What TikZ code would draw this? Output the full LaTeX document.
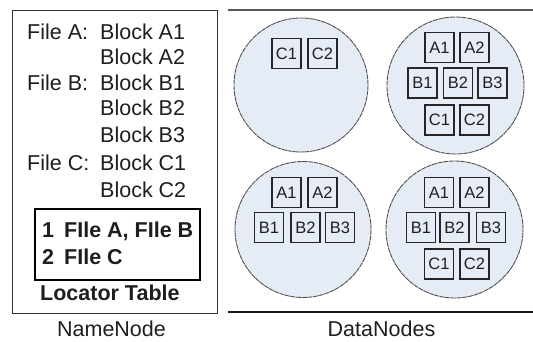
\documentclass[tikz,border=0pt]{standalone}
\usepackage{fontspec}
\setmainfont{Liberation Sans}
\definecolor{dnfill}{HTML}{E6ECF6}
\definecolor{dnline}{HTML}{505050}
\definecolor{txt}{HTML}{1E1E1E}
\begin{document}
\begin{tikzpicture}[x=1pt,y=-1pt,
  big/.style={font=\fontsize{21.5}{24}\selectfont, text=txt, inner sep=0pt, anchor=base west},
  bigb/.style={font=\fontsize{21.5}{24}\selectfont\bfseries, text=txt, inner sep=0pt, anchor=base west},
  caption/.style={font=\fontsize{21.5}{24}\selectfont, text=txt, inner sep=0pt, anchor=base},
  dn/.style={circle, draw=dnline, fill=dnfill, line width=0.9pt, dash pattern=on 5pt off 0.7pt, inner sep=0pt},
  blk/.style={draw=black!85, line width=1.1pt, fill=dnfill, minimum width=29pt, minimum height=30pt, inner sep=0pt,
    font=\fontsize{16.5}{18}\selectfont, text=txt}
]
\useasboundingbox (0,0) rectangle (533,342);

% NameNode panel
\node[draw=black!80, line width=0.9pt, minimum width=205pt, minimum height=303pt, inner sep=0pt] (namebox) at (114.5,161.5) {};
\node[big] (fa) at (27,39.5) {File A:};
\node[big] (a1) at (100,39.5) {Block A1};
\node[big] (a2) at (100,65) {Block A2};
\node[big] (fb) at (27,90.5) {File B:};
\node[big] (b1) at (100,90.5) {Block B1};
\node[big] (b2) at (100,116) {Block B2};
\node[big] (b3) at (100,143) {Block B3};
\node[big] (fc) at (27,170.5) {File C:};
\node[big] (c1) at (100,170.5) {Block C1};
\node[big] (c2) at (100,197.5) {Block C2};

\node[draw=black, line width=2pt, minimum width=165pt, minimum height=71pt, inner sep=0pt] (loc) at (117.5,244.5) {};
\node[bigb] (l1n) at (42,237.5) {1};
\node[bigb] (l1t) at (64,237.5) {FIle A, FIle B};
\node[bigb] (l2n) at (42,264.5) {2};
\node[bigb] (l2t) at (64,264.5) {FIle C};
\node[bigb] (loct) at (40,300.5) {Locator Table};

% DataNodes panel
\coordinate (tl) at (228,10);
\coordinate (tr) at (533,10);
\coordinate (bl) at (228,312);
\coordinate (br) at (533,312);
\draw[line width=1.8pt, black!65] (tl) -- (tr);
\draw[line width=1.3pt, black!90] (bl) -- (br);

\node[dn, minimum size=134pt] (d1) at (301,85) {};
\node[dn, minimum size=137pt] (d2) at (455.5,85.5) {};
\node[dn, minimum size=136pt] (d3) at (303,229.5) {};
\node[dn, minimum size=137pt] (d4) at (454.5,229.5) {};

% DataNode 1
\node[blk] (d1c1) at (286.5,53.5) {C1};
\node[blk] (d1c2) at (322.5,53.5) {C2};
% DataNode 2
\node[blk] (d2a1) at (439.5,47.5) {A1};
\node[blk] (d2a2) at (474.5,47.5) {A2};
\node[blk] (d2b1) at (422.5,83) {B1};
\node[blk] (d2b2) at (458,83) {B2};
\node[blk] (d2b3) at (492.5,83) {B3};
\node[blk] (d2c1) at (439.5,120) {C1};
\node[blk] (d2c2) at (474.5,120) {C2};
% DataNode 3
\node[blk] (d3a1) at (286.5,192.5) {A1};
\node[blk] (d3a2) at (322.5,192.5) {A2};
\node[blk] (d3b1) at (269,227.5) {B1};
\node[blk] (d3b2) at (305.5,227.5) {B2};
\node[blk] (d3b3) at (340,227.5) {B3};
% DataNode 4
\node[blk] (d4a1) at (439,192.5) {A1};
\node[blk] (d4a2) at (474.5,192.5) {A2};
\node[blk] (d4b1) at (421,227.5) {B1};
\node[blk] (d4b2) at (454.5,227.5) {B2};
\node[blk] (d4b3) at (491,227.5) {B3};
\node[blk] (d4c1) at (439,264) {C1};
\node[blk] (d4c2) at (474.5,264) {C2};

% captions
\node[caption] (nn) at (111.5,336.5) {NameNode};
\node[caption] (dns) at (381.5,336.5) {DataNodes};
\end{tikzpicture}
\end{document}
